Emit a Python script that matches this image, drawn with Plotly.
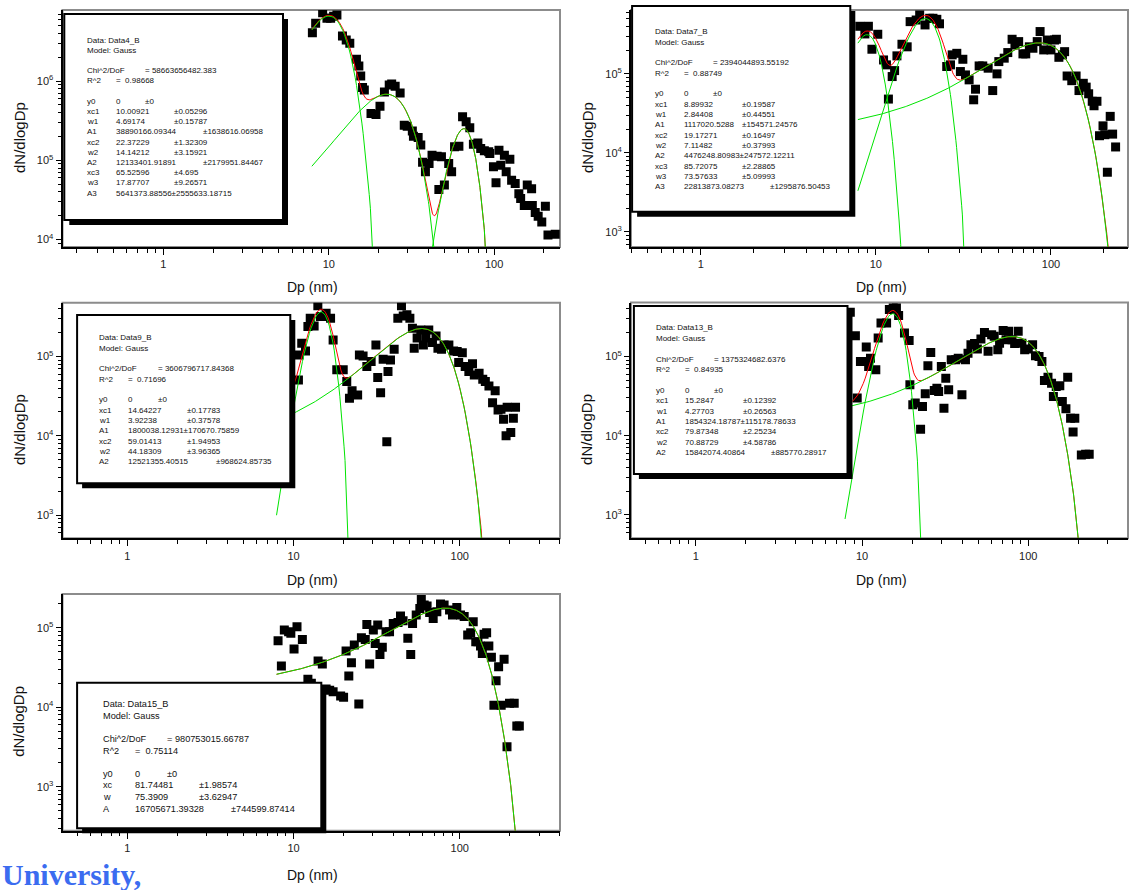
import math
import numpy as np
import plotly.graph_objects as go

W, H = 1132, 890
FONT = "Liberation Sans, Arial, sans-serif"

# ---------------- measured size spectra: Dp (nm) and dN/dlogDp ----------------
dp_data4 = [7.96, 8.33, 9.18, 9.75, 10.26, 10.7, 11.2, 12.1, 12.75, 13.4, 14.7, 15.2, 15.6, 16.0, 16.4,
            18.0, 19.3, 20.4, 21.7, 23.2, 24.0, 25.2, 27.0, 28.6, 29.8, 32.0, 32.5, 34.7, 36.0, 36.9,
            38.4, 40.4, 42.1, 45.2, 46.3, 48.0, 50.0, 53.1, 55.3, 57.6, 61.2, 64.4, 67.7, 71.2, 74.9,
            79.7, 82.9, 87.2, 92.7, 94.1, 99.0, 102.6, 106.9, 109.6, 115.3, 118.2, 124.4, 127.5, 134.0,
            141.0, 144.6, 152.1, 158.5, 168.4, 170.1, 177.1, 184.5, 194.0, 204.0, 211.5, 234.0]
dn_data4 = [4.08e6, 5.35e6, 7.3e6, 6.2e6, 6.2e6, 6.6e6, 6.8e6, 3.7e6, 3.3e6, 3.0e6, 1.88e6, 1.55e6, 1.16e6,
            8.3e5, 7.7e5, 3.9e5, 3.8e5, 4.8e5, 7.3e5, 8.9e5, 9.2e5, 8.6e5, 7.1e5, 2.77e5, 2.7e5, 2.34e5,
            2.02e5, 1.94e5, 1.56e5, 9.5e4, 7.2e4, 9.1e4, 1.16e5, 1.13e5, 4.3e4, 1.11e5, 4.9e4, 9.1e4, 7.2e4,
            1.48e5, 1.51e5, 3.54e5, 3.06e5, 2.57e5, 1.6e5, 1.66e5, 1.41e5, 1.32e5, 1.28e5, 1.22e5, 8.3e4,
            5.2e4, 1.34e5, 8.7e4, 1.16e5, 7.2e4, 1.03e5, 5.6e4, 5.1e4, 3.8e4, 3.3e4, 2.7e4, 4.9e4, 4.4e4,
            2.7e4, 2.2e4, 1.97e4, 1.67e4, 2.64e4, 1.14e4, 1.17e4]

dp_data7 = [8.1, 8.66, 9.07, 9.5, 10.26, 11.07, 11.5, 11.8, 12.4, 12.8, 13.2, 14.1, 15.1, 15.7, 17.0, 17.8,
            19.1, 20.3, 21.2, 22.3, 23.1, 25.4, 26.7, 27.3, 29.0, 30.4, 31.4, 32.5, 34.1, 36.2, 37.1, 38.9,
            40.8, 43.8, 46.5, 49.2, 50.4, 54.1, 56.7, 60.0, 62.3, 65.4, 69.2, 71.8, 75.3, 78.9, 83.5, 86.7,
            90.9, 95.3, 100.0, 104.9, 107.4, 111.0, 116.3, 119.7, 123.7, 131.5, 139.2, 144.6, 153.0, 158.9,
            164.2, 172.1, 176.2, 183.1, 189.3, 198.3, 203.0, 210.0, 218.0, 225.0, 234.0]
dn_data7 = [4.0e5, 3.2e5, 4.0e5, 2.05e5, 3.17e5, 1.5e5, 1.3e5, 4.8e4, 9.25e4, 1.1e5, 1.69e5, 2.37e5, 2.2e5,
            4.58e5, 4.8e5, 5.56e5, 4.16e5, 5.05e5, 5.05e5, 4.9e5, 4.3e5, 1.24e5, 1.3e5, 1.74e5, 1.82e5,
            1.07e5, 1.53e5, 9.7e4, 8.4e4, 4.7e4, 6.4e4, 1.26e5, 1.26e5, 1.18e5, 6.15e4, 1.0e5, 1.43e5,
            1.58e5, 1.86e5, 2.74e5, 2.32e5, 2.56e5, 1.79e5, 1.79e5, 2.2e5, 2.11e5, 2.56e5, 3.43e5, 2.01e5,
            2.68e5, 2.01e5, 2.68e5, 2.74e5, 1.62e5, 1.74e5, 1.91e5, 9.4e4, 8.2e4, 9.4e4, 6.15e4, 7.6e4,
            6.8e4, 5.6e4, 4.5e4, 3.95e4, 4.5e4, 1.65e4, 2.2e4, 1.7e4, 5.7e3, 2.9e4, 1.73e4, 1.19e4]

dp_data9 = [10.7, 10.8, 11.2, 11.8, 12.2, 12.6, 13.3, 14.0, 14.5, 15.3, 15.7, 16.7, 17.3, 18.2, 19.9, 20.9,
            21.7, 22.5, 24.3, 24.9, 26.2, 27.6, 29.3, 31.3, 32.1, 33.4, 34.6, 36.4, 37.0, 38.3, 40.3, 42.4,
            44.6, 45.7, 48.1, 50.1, 51.9, 53.2, 55.4, 58.3, 60.4, 62.5, 65.1, 68.5, 72.0, 73.9, 77.7, 80.5,
            86.0, 91.8, 96.5, 98.5, 103.6, 107.8, 113.4, 119.3, 122.3, 130.7, 137.5, 142.5, 149.8, 157.5,
            163.3, 170.0, 177.0, 183.4, 189.9, 192.8, 202.7, 210.1, 216.5]
dn_data9 = [5.07e4, 1.05e5, 1.47e5, 1.18e5, 2.39e5, 3.05e5, 2.44e5, 4.37e5, 3.2e5, 3.2e5, 3.52e5, 3.05e5,
            1.62e5, 6.8e4, 6.8e4, 4.83e4, 2.98e4, 3.69e4, 3.28e4, 1.05e5, 1.02e5, 7.48e4, 8.65e4, 1.4e5,
            5.43e4, 3.5e4, 9.25e4, 8.4e3, 6.47e4, 9.07e4, 1.24e5, 3.05e5, 4.37e5, 3.26e5, 3.36e5, 3.05e5,
            2.28e5, 1.27e5, 1.71e5, 2.17e5, 1.4e5, 1.71e5, 2.17e5, 1.5e5, 1.82e5, 1.27e5, 1.24e5, 1.4e5,
            1.4e5, 1.18e5, 1.16e5, 8.4e4, 1.12e5, 7.48e4, 6.47e4, 8.1e4, 5.86e4, 6.15e4, 5.18e4, 4.83e4,
            4.26e4, 2.62e4, 3.69e4, 2.12e4, 2.16e4, 1.62e4, 1.0e4, 2.29e4, 1.1e4, 1.66e4, 2.29e4]

dp_data13 = [8.5, 9.12, 9.35, 9.78, 10.2, 10.6, 10.96, 11.24, 12.1, 12.5, 13.0, 14.05, 14.6, 15.4, 16.1,
             16.6, 18.0, 19.2, 19.4, 20.2, 20.9, 22.5, 23.1, 24.0, 24.9, 25.9, 27.2, 28.2, 28.9, 30.0, 31.1,
             31.9, 33.2, 34.4, 36.6, 37.9, 39.9, 41.9, 43.4, 45.2, 47.5, 49.4, 51.9, 54.5, 57.3, 60.2, 62.4,
             65.6, 67.2, 70.6, 73.5, 76.1, 79.9, 82.8, 87.0, 91.5, 95.1, 100.0, 106.2, 110.5, 116.1, 120.8,
             125.1, 131.4, 138.1, 141.6, 147.3, 154.8, 160.3, 168.5, 172.7, 179.7, 186.1, 190.6, 208.6,
             221.3, 232.6]
dn_data13 = [3.6e5, 1.82e5, 2.98e4, 8.65e4, 8.65e4, 1.31e5, 7.48e4, 9.5e4, 6.8e4, 1.71e5, 2.64e5, 2.64e5,
             3.9e5, 4.08e5, 4.08e5, 3.27e5, 1.97e5, 1.59e5, 4.39e4, 2.45e4, 2.58e4, 1.21e4, 2.33e4, 3.37e4,
             7.63e4, 1.12e5, 3.72e4, 3.98e4, 3.61e4, 7.48e4, 2.22e4, 5.32e4, 3.8e4, 9.07e4, 9.07e4, 9.5e4,
             3.28e4, 9.07e4, 1.1e5, 1.4e5, 1.45e5, 1.24e5, 1.66e5, 2.01e5, 1.16e5, 1.88e5, 1.79e5, 1.21e5,
             1.47e5, 2.13e5, 1.62e5, 2.07e5, 1.62e5, 1.45e5, 2.07e5, 1.47e5, 1.21e5, 1.24e5, 1.4e5, 1.02e5,
             1.0e5, 8.65e4, 4.98e4, 5.48e4, 4.6e4, 3.13e4, 4.18e4, 4.26e4, 2.7e4, 2.18e4, 5.48e4, 1.66e4,
             1.11e4, 1.66e4, 5.73e3, 5.83e3, 5.83e3]

dp_data15 = [8.07, 8.45, 8.8, 9.34, 9.63, 10.07, 10.49, 11.3, 12.2, 12.8, 14.05, 14.9, 15.7, 16.5, 17.3,
             19.2, 20.0, 20.7, 21.5, 22.3, 23.2, 24.7, 25.6, 27.0, 27.6, 28.7, 30.2, 31.0, 32.1, 33.1, 34.2,
             36.0, 37.8, 39.8, 42.5, 44.0, 45.6, 48.7, 50.7, 52.0, 54.7, 57.5, 58.7, 61.1, 63.6, 65.9, 69.2,
             72.8, 76.6, 80.5, 86.8, 90.4, 96.0, 101.0, 106.3, 111.6, 116.3, 120.5, 124.8, 128.6, 133.3,
             136.7, 140.0, 145.1, 149.6, 155.0, 160.5, 165.4, 171.3, 177.5, 184.8, 192.4, 199.2, 212.6,
             220.4, 228.2]
dn_data15 = [6.86e4, 3.3e4, 9.35e4, 8.9e4, 8.5e4, 5.4e4, 1.03e5, 7.13e4, 2.24e4, 2.0e4, 3.81e4, 3.49e4,
             1.7e4, 1.64e4, 1.57e4, 1.38e4, 1.33e4, 5.08e4, 2.47e4, 3.63e4, 6.05e4, 1.1e4, 7.48e4, 7.13e4,
             1.1e5, 3.49e4, 9.35e4, 6.35e4, 1.08e5, 4.62e4, 5.66e4, 8.9e4, 8.9e4, 1.13e5, 1.16e5, 1.4e5,
             1.22e5, 7.35e4, 4.62e4, 1.13e5, 1.44e5, 1.75e5, 2.27e5, 1.93e5, 1.87e5, 1.55e5, 1.31e5, 1.59e5,
             1.99e5, 1.93e5, 1.67e5, 1.44e5, 1.8e5, 1.44e5, 1.38e5, 8.1e4, 8.65e4, 1.19e5, 6.67e4, 6.67e4,
             5.88e4, 4.75e4, 8.3e4, 8.65e4, 5.88e4, 4.24e4, 1.06e4, 2.15e4, 3.23e4, 1.06e4, 4.0e4, 3.18e3,
             1.12e4, 1.12e4, 5.8e3, 5.8e3]

# ---------------- Gauss fit results (y0 = 0 for every set) ----------------
xc_data4 = [10.00921, 22.37229, 65.52596]
w_data4 = [4.69174, 14.14212, 17.87707]
a_data4 = [38890166.09344, 12133401.91891, 5641373.88556]
xc_err4 = [0.05296, 1.32309, 4.695]
w_err4 = [0.15787, 3.15921, 9.26571]
a_err4 = [1638616.06958, 2179951.84467, 2555633.18715]
chi_data4, r2_data4 = 58663656482.383, 0.98668

xc_data7 = [8.89932, 19.17271, 85.72075]
w_data7 = [2.84408, 7.11482, 73.57633]
a_data7 = [1117020.5288, 4476248.80983, 22813873.08273]
xc_err7 = [0.19587, 0.16497, 2.28865]
w_err7 = [0.44551, 0.37993, 5.09993]
a_err7 = [154571.24576, 247572.12211, 1295876.50453]
chi_data7, r2_data7 = 2394044893.55192, 0.88749

xc_data9 = [14.64227, 59.01413]
w_data9 = [3.92238, 44.18309]
a_data9 = [1800038.12931, 12521355.40515]
xc_err9 = [0.17783, 1.94953]
w_err9 = [0.37578, 3.96365]
a_err9 = [170670.75859, 968624.85735]
chi_data9, r2_data9 = 3606796717.84368, 0.71696

xc_data13 = [15.2847, 79.87348]
w_data13 = [4.27703, 70.88729]
a_data13 = [1854324.18787, 15842074.40864]
xc_err13 = [0.12392, 2.25234]
w_err13 = [0.26563, 4.58786]
a_err13 = [115178.78633, 885770.28917]
chi_data13, r2_data13 = 1375324682.6376, 0.84935

xc_data15 = [81.74481]
w_data15 = [75.3909]
a_data15 = [16705671.39328]
xc_err15 = [1.98574]
w_err15 = [3.62947]
a_err15 = [744599.87414]
chi_data15, r2_data15 = 980753015.66787, 0.75114

fit_dp_min, fit_dp_max = 7.9, 235.0

sets = [
    dict(name="Data4_B", dp=dp_data4, dn=dn_data4, xc=xc_data4, w=w_data4, a=a_data4,
         exc=xc_err4, ew=w_err4, ea=a_err4, chi=chi_data4, r2=r2_data4),
    dict(name="Data7_B", dp=dp_data7, dn=dn_data7, xc=xc_data7, w=w_data7, a=a_data7,
         exc=xc_err7, ew=w_err7, ea=a_err7, chi=chi_data7, r2=r2_data7),
    dict(name="Data9_B", dp=dp_data9, dn=dn_data9, xc=xc_data9, w=w_data9, a=a_data9,
         exc=xc_err9, ew=w_err9, ea=a_err9, chi=chi_data9, r2=r2_data9),
    dict(name="Data13_B", dp=dp_data13, dn=dn_data13, xc=xc_data13, w=w_data13, a=a_data13,
         exc=xc_err13, ew=w_err13, ea=a_err13, chi=chi_data13, r2=r2_data13),
    dict(name="Data15_B", dp=dp_data15, dn=dn_data15, xc=xc_data15, w=w_data15, a=a_data15,
         exc=xc_err15, ew=w_err15, ea=a_err15, chi=chi_data15, r2=r2_data15),
]

# ---------------- page geometry (pixels) ----------------
geometry = [
    dict(plot=(62.5, 10, 560, 247), xr=(-0.61, 2.398), yr=(3.907, 6.897),
         box=(64.3, 14, 283, 220), col0=86.2, tab=29.0, first=40, dy=10.2, fs=8,
         ytitle_x=19, xtitle_y=287.3),
    dict(plot=(631, 10, 1128, 247), xr=(-0.398, 2.44), yr=(2.81, 5.808),
         box=(632.1, 6, 850.3, 211.7), col0=654.4, tab=28.7, first=32, dy=10.33, fs=8,
         ytitle_x=587, xtitle_y=287.3),
    dict(plot=(62.5, 302.7, 560, 538.3), xr=(-0.39, 2.603), yr=(2.706, 5.68),
         box=(77.1, 315, 290.3, 483.3), col0=98.2, tab=29.2, first=338, dy=10.33, fs=8,
         ytitle_x=19, xtitle_y=580),
    dict(plot=(631, 302.5, 1128, 538.3), xr=(-0.39, 2.6), yr=(2.706, 5.68),
         box=(633.9, 306, 847.5, 474), col0=655.4, tab=28.7, first=328, dy=10.4, fs=8,
         ytitle_x=587, xtitle_y=580),
    dict(plot=(62.5, 594, 560, 830.7), xr=(-0.39, 2.603), yr=(2.447, 5.424),
         box=(77.1, 682.7, 321.3, 828.3), col0=101.5, tab=32.1, first=704, dy=11.63, fs=9.2,
         ytitle_x=19, xtitle_y=875),
]

RED = "#ff0000"
GREEN = "#00e400"
FRAME_GRAY = "#8c8c8c"


def gauss(x, xc, w, a, y0=0.0):
    """Origin 'Gauss' peak: y0 + A/(w*sqrt(pi/2)) * exp(-2((x-xc)/w)^2)."""
    return y0 + a / (w * math.sqrt(math.pi / 2)) * np.exp(-2.0 * ((x - xc) / w) ** 2)


def num(v):
    return repr(v) if v != int(v) else str(int(v))


def minor_vals(lo, hi):
    out = []
    for e in range(math.floor(lo) - 1, math.ceil(hi) + 1):
        for m in range(2, 10):
            v = m * 10.0 ** e
            if lo <= math.log10(v) <= hi:
                out.append(v)
    return out


def major_vals(lo, hi):
    return [10.0 ** e for e in range(math.ceil(lo), math.floor(hi) + 1)]


def px(x):
    return x / W


def py(y):
    return 1 - y / H


def text_ann(x, y, text, size, **kw):
    d = dict(x=px(x), y=py(y), xref="paper", yref="paper", text=text, showarrow=False,
             xanchor="left", yanchor="middle", borderpad=0,
             font=dict(family=FONT, size=size, color="#111111"))
    d.update(kw)
    return d


fig = go.Figure()
layout = dict(width=W, height=H, margin=dict(l=0, r=0, t=0, b=0),
              paper_bgcolor="white", plot_bgcolor="white", showlegend=False,
              font=dict(family=FONT, size=11, color="#222222"))
shapes, annotations = [], []

for k, (s, g) in enumerate(zip(sets, geometry), start=1):
    sfx = "" if k == 1 else str(k)
    x0, y0, x1, y1 = g["plot"]
    xlo, xhi = g["xr"]
    ylo, yhi = g["yr"]
    tick_font = dict(family=FONT, size=11, color="#222222")

    layout["xaxis" + sfx] = dict(
        type="log", domain=[px(x0), px(x1)], range=[xlo, xhi], anchor="y" + sfx,
        showline=True, linecolor="black", linewidth=2, showgrid=False, zeroline=False,
        ticks="outside", ticklen=6, tickwidth=1, tickcolor="black",
        tickmode="array", tickvals=major_vals(xlo, xhi),
        ticktext=[str(int(v)) if v >= 1 else str(v) for v in major_vals(xlo, xhi)],
        minor=dict(ticks="outside", ticklen=3.5, tickwidth=1, tickcolor="black",
                   tickmode="array", tickvals=minor_vals(xlo, xhi), showgrid=False),
        tickfont=tick_font,
    )
    yt = major_vals(ylo, yhi)
    layout["yaxis" + sfx] = dict(
        type="log", domain=[py(y1), py(y0)], range=[ylo, yhi], anchor="x" + sfx,
        showline=True, linecolor="black", linewidth=2, showgrid=False, zeroline=False,
        ticks="outside", ticklen=5, tickwidth=1, tickcolor="black",
        tickmode="array", tickvals=yt,
        ticktext=["10<sup>%d</sup>" % round(math.log10(v)) for v in yt],
        minor=dict(ticks="outside", ticklen=3, tickwidth=1, tickcolor="black",
                   tickmode="array", tickvals=minor_vals(ylo, yhi), showgrid=False),
        tickfont=tick_font,
    )

    # gray frame on top / right edges of the plot area
    shapes.append(dict(type="rect", xref="paper", yref="paper", x0=px(x0), x1=px(x1),
                       y0=py(y1), y1=py(y0), line=dict(color=FRAME_GRAY, width=2),
                       fillcolor="rgba(0,0,0,0)", layer="below"))

    # measured points
    fig.add_trace(go.Scatter(x=s["dp"], y=s["dn"], mode="markers",
                             marker=dict(symbol="square", size=9, color="black"),
                             xaxis="x" + sfx, yaxis="y" + sfx, hoverinfo="x+y"))

    # fitted curves: cumulative fit (red) and individual peaks (green)
    xfit = np.linspace(fit_dp_min, fit_dp_max, 800)
    peaks = [gauss(xfit, c, w, a) for c, w, a in zip(s["xc"], s["w"], s["a"])]
    total = np.sum(peaks, axis=0)
    fig.add_trace(go.Scatter(x=xfit, y=total, mode="lines", line=dict(color=RED, width=1),
                             xaxis="x" + sfx, yaxis="y" + sfx, hoverinfo="skip"))
    for pk in peaks:
        yv = [v if v > 1e-250 else None for v in pk]
        fig.add_trace(go.Scatter(x=xfit, y=yv, mode="lines", line=dict(color=GREEN, width=1),
                                 xaxis="x" + sfx, yaxis="y" + sfx, hoverinfo="skip",
                                 connectgaps=False))

    # fit report box with drop shadow
    bx0, by0, bx1, by1 = g["box"]
    shapes.append(dict(type="rect", xref="paper", yref="paper",
                       x0=px(bx0 + 5), x1=px(bx1 + 5), y0=py(by1 + 5), y1=py(by0 + 5),
                       fillcolor="black", line=dict(width=0), layer="above"))
    shapes.append(dict(type="rect", xref="paper", yref="paper",
                       x0=px(bx0), x1=px(bx1), y0=py(by1), y1=py(by0),
                       fillcolor="white", line=dict(color="black", width=2), layer="above"))

    fs = g["fs"]

    def stop(n, g=g):
        return g["col0"] + n * g["tab"]

    def line_y(i, g=g):
        return g["first"] + i * g["dy"]

    annotations.append(text_ann(stop(0), line_y(0), "Data: " + s["name"], fs))
    annotations.append(text_ann(stop(0), line_y(1), "Model: Gauss", fs))
    annotations.append(text_ann(stop(0), line_y(3), "Chi^2/DoF", fs))
    annotations.append(text_ann(stop(2), line_y(3), "= " + num(s["chi"]), fs))
    annotations.append(text_ann(stop(0), line_y(4), "R^2", fs))
    annotations.append(text_ann(stop(1), line_y(4), "=\u00a0 " + num(s["r2"]), fs))
    annotations.append(text_ann(stop(0), line_y(6), "y0", fs))
    annotations.append(text_ann(stop(1), line_y(6), "0", fs))
    annotations.append(text_ann(stop(2), line_y(6), "\u00b10", fs))

    single = len(s["xc"]) == 1
    rows = []
    for j in range(len(s["xc"])):
        idx = "" if single else str(j + 1)
        rows.append(("xc" + idx, s["xc"][j], s["exc"][j]))
        rows.append(("w" + idx, s["w"][j], s["ew"][j]))
        rows.append(("A" + idx, s["a"][j], s["ea"][j]))
    for r, (nm, val, err) in enumerate(rows):
        yy = line_y(7 + r)
        vtxt, etxt = num(val), "\u00b1" + num(err)
        annotations.append(text_ann(stop(0), yy, nm, fs))
        # tab stop after the value column depends on how wide the value is
        if len(vtxt) <= 12:
            annotations.append(text_ann(stop(1), yy, vtxt, fs))
            annotations.append(text_ann(stop(3), yy, etxt, fs))
        elif len(vtxt) == 13:
            annotations.append(text_ann(stop(1), yy, vtxt + etxt, fs))
        else:
            annotations.append(text_ann(stop(1), yy, vtxt, fs))
            annotations.append(text_ann(stop(4), yy, etxt, fs))

    # axis titles
    annotations.append(dict(x=px(g["ytitle_x"]), y=py((y0 + y1) / 2 + 9.5), xref="paper", yref="paper",
                            text="dN/dlogDp", textangle=-90, showarrow=False,
                            xanchor="center", yanchor="middle",
                            font=dict(family=FONT, size=15, color="#111111")))
    annotations.append(dict(x=px((x0 + x1) / 2 + 1.5), y=py(g["xtitle_y"]), xref="paper", yref="paper",
                            text="Dp (nm)", showarrow=False, xanchor="center", yanchor="middle",
                            font=dict(family=FONT, size=14, color="#111111")))

annotations.append(dict(x=px(0), y=py(874), xref="paper", yref="paper", text="<b>University,</b>",
                        showarrow=False, xanchor="left", yanchor="middle",
                        font=dict(family="Liberation Serif, Times New Roman, serif", size=30,
                                  color="#3b6cf0")))

layout["shapes"] = shapes
layout["annotations"] = annotations
fig.update_layout(**layout)
fig.write_html("out.html")
